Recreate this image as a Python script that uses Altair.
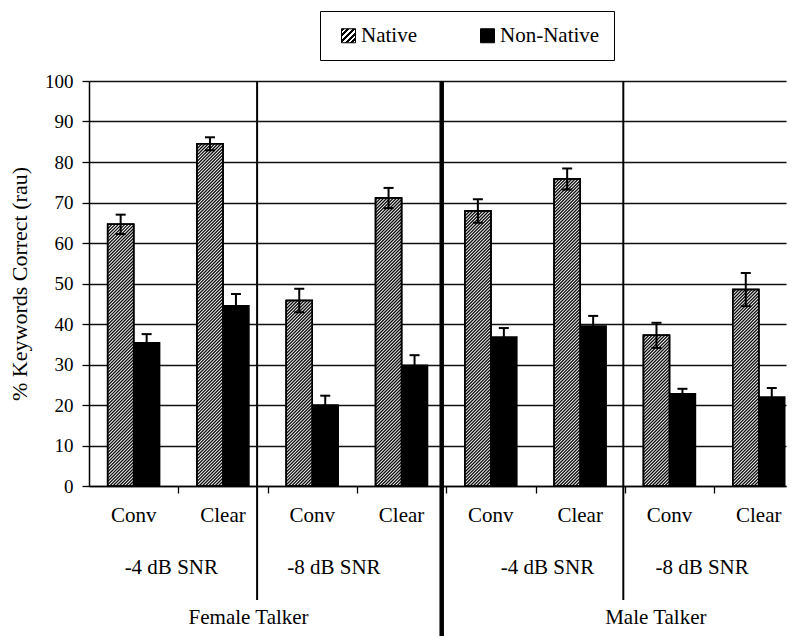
import altair as alt
import pandas as pd

# ---------------- data ----------------
conditions = ["Conv", "Clear", "Conv", "Clear", "Conv", "Clear", "Conv", "Clear"]
snr_levels = ["-4 dB SNR", "-4 dB SNR", "-8 dB SNR", "-8 dB SNR",
              "-4 dB SNR", "-4 dB SNR", "-8 dB SNR", "-8 dB SNR"]
talkers = ["Female Talker"] * 4 + ["Male Talker"] * 4
series = ["Native", "Non-Native"]
native = [64.6, 84.5, 45.8, 71.1, 67.9, 75.8, 37.2, 48.5]
native_err = [2.4, 1.6, 2.9, 2.5, 2.9, 2.6, 3.1, 4.1]
nonnative = [35.4, 44.5, 20.0, 29.8, 36.8, 39.5, 22.8, 22.0]
nonnative_err = [2.1, 2.9, 2.3, 2.5, 2.2, 2.5, 1.2, 2.2]
y_ticks = list(range(0, 101, 10))

# ---------------- layout / style ----------------
FONT = "Liberation Serif, Times New Roman, Times, serif"
W, H = 697, 405
X_MIN, X_MAX = -0.5, 7.305
PX = W / (X_MAX - X_MIN)      # pixels per category unit
PY = H / 100.0                # pixels per percent
BAR = 0.291                   # bar width in category units
CAP = 5.0 / PX                # half width of error caps
PERIOD = 3.2                  # hatch spacing (px)

xs = alt.Scale(domain=[X_MIN, X_MAX], nice=False, zero=False)
ys = alt.Scale(domain=[0, 100], nice=False)

idx = list(range(len(conditions)))
bars = pd.DataFrame({
    "idx": idx * 2,
    "series": ["Native"] * len(idx) + ["Non-Native"] * len(idx),
    "value": native + nonnative,
    "err": native_err + nonnative_err,
})

# hatch lines for the Native bars (45 degree, clipped to each bar)
hatch = []
w_px = BAR * PX
for i, v in enumerate(native):
    h_px = v * PY
    left = i - BAR
    t = -w_px + PERIOD / 2
    while t < h_px:
        xs0, ys0 = max(0.0, -t), max(0.0, t)
        xe1, ye1 = min(w_px, h_px - t), min(h_px, t + w_px)
        if xe1 > xs0:
            hatch.append({"hx0": left + xs0 / PX, "hy0": ys0 / PY,
                          "hx1": left + xe1 / PX, "hy1": ye1 / PY})
        t += PERIOD
hatch_df = pd.DataFrame(hatch)

# legend swatch hatch (gradient in the square symbol's box)
stops = []
n = 5
for k in range(n):
    a = k / n
    b = a + 0.55 / n
    c = (k + 1) / n
    stops += [f"{{offset: {a:.3f}, color: 'black'}}", f"{{offset: {b:.3f}, color: 'black'}}",
              f"{{offset: {b:.3f}, color: 'white'}}", f"{{offset: {c:.3f}, color: 'white'}}"]
grad_expr = ("({gradient: 'linear', x1: 0, y1: 0, x2: 1, y2: 1, stops: ["
             + ", ".join(stops) + "]})")

y_axis = alt.Axis(values=y_ticks, title="% Keywords Correct (rau)", grid=True,
                  gridColor="#111111", gridWidth=1.3, tickSize=7, tickColor="black",
                  tickWidth=1.3, domainColor="black", domainWidth=1.5,
                  labelFont=FONT, labelFontSize=19, labelColor="black", labelPadding=9,
                  titleFont=FONT, titleFontSize=22, titleFontWeight="normal",
                  titleColor="black", titleX=-70, titleY=H / 2, titleAngle=270,
                  titleAlign="center", titleBaseline="middle")
x_axis = alt.Axis(values=[i + 0.5 for i in idx[:-1]], labels=False, title=None,
                  grid=False, tickSize=7, tickColor="black", tickWidth=1.3,
                  domainColor="black", domainWidth=1.5)

bar_calc = dict(
    x0=f"datum.idx + (datum.series == 'Native' ? {-BAR} : 0)",
    x1=f"datum.idx + (datum.series == 'Native' ? 0 : {BAR})",
)

legend = alt.Legend(
    title="\u00a0\u00a0\u00a0\u00a0", titleOrient="left", titleFont=FONT, titleFontSize=21,
    titleFontWeight="normal", titlePadding=4,
    orient="none", legendX=231, legendY=-70, direction="horizontal",
    symbolType="square", symbolSize=196, symbolStrokeColor="black",
    symbolStrokeWidth=1, labelFont=FONT, labelFontSize=21, labelColor="black",
    labelOffset=2, columnPadding=60, padding=14, strokeColor="black",
)

base_bars = alt.Chart(bars).transform_calculate(**bar_calc)

layer_bars = base_bars.mark_bar(stroke="black", strokeWidth=1.5).encode(
    x=alt.X("x0:Q", scale=xs, axis=x_axis),
    x2="x1:Q",
    y=alt.Y("value:Q", scale=ys, axis=y_axis, stack=None),
    y2=alt.datum(0),
    fill=alt.Fill("series:N", sort=series,
                  scale=alt.Scale(domain=series, range=[{"expr": grad_expr}, "black"]),
                  legend=legend),
)

layer_white = base_bars.transform_filter("datum.series == 'Native'").mark_bar(
    fill="white", stroke="black", strokeWidth=1.5).encode(
    x=alt.X("x0:Q", scale=xs),
    x2="x1:Q",
    y=alt.Y("value:Q", scale=ys, stack=None),
    y2=alt.datum(0),
)

layer_hatch = alt.Chart(hatch_df).mark_rule(color="#111", strokeWidth=1.35).encode(
    x=alt.X("hx0:Q", scale=xs), x2="hx1:Q",
    y=alt.Y("hy0:Q", scale=ys), y2="hy1:Q",
)

layer_outline = base_bars.transform_filter("datum.series == 'Native'").mark_bar(
    fillOpacity=0, stroke="black", strokeWidth=1.5).encode(
    x=alt.X("x0:Q", scale=xs),
    x2="x1:Q",
    y=alt.Y("value:Q", scale=ys, stack=None),
    y2=alt.datum(0),
)

err_base = alt.Chart(bars).transform_calculate(
    cx=f"datum.idx + (datum.series == 'Native' ? {-BAR / 2} : {BAR / 2})",
    lo="datum.value - datum.err",
    hi="datum.value + datum.err",
).transform_calculate(c0=f"datum.cx - {CAP}", c1=f"datum.cx + {CAP}")

err_stem = err_base.mark_rule(color="black", strokeWidth=2).encode(
    x=alt.X("cx:Q", scale=xs),
    y=alt.Y("lo:Q", scale=ys), y2="hi:Q")
err_top = err_base.mark_rule(color="black", strokeWidth=2).encode(
    x=alt.X("c0:Q", scale=xs), x2="c1:Q",
    y=alt.Y("hi:Q", scale=ys))
err_bot = err_base.mark_rule(color="black", strokeWidth=2).encode(
    x=alt.X("c0:Q", scale=xs), x2="c1:Q",
    y=alt.Y("lo:Q", scale=ys))

# category labels
cat_df = pd.DataFrame({"idx": idx, "cond": conditions})
layer_cat = alt.Chart(cat_df).mark_text(font=FONT, fontSize=21, color="black",
                                        baseline="middle").encode(
    x=alt.X("idx:Q", scale=xs), y=alt.value(435), text="cond:N")

# group labels (SNR and talker)
def groups(keys):
    out = []
    start = 0
    for i in range(1, len(keys) + 1):
        if i == len(keys) or keys[i] != keys[start]:
            out.append((keys[start], start, i - 1))
            start = i
    return out

snr_groups = groups(list(zip(talkers, snr_levels)))
snr_dx = [-7, -23, 12, -12]
talker_groups = groups(talkers)
talker_dx = [-19, 31]

group_layers = []
for (key, a, b), dx in zip(snr_groups, snr_dx):
    d = pd.DataFrame({"center": [(a + b) / 2], "label": [key[1]]})
    group_layers.append(alt.Chart(d).mark_text(font=FONT, fontSize=21, color="black",
                                               baseline="middle", dx=dx).encode(
        x=alt.X("center:Q", scale=xs), y=alt.value(487), text="label:N"))
for (key, a, b), dx in zip(talker_groups, talker_dx):
    d = pd.DataFrame({"center": [(a + b) / 2], "label": [key]})
    group_layers.append(alt.Chart(d).mark_text(font=FONT, fontSize=21, color="black",
                                               baseline="middle", dx=dx).encode(
        x=alt.X("center:Q", scale=xs), y=alt.value(537), text="label:N"))

# separator lines at group boundaries
sep_layers = []
snr_bounds = [(b + 0.5) for (_, a, b) in snr_groups[:-1]]
talker_bounds = [(b + 0.5) for (_, a, b) in talker_groups[:-1]]
thin_bounds = [s for s in snr_bounds if s not in talker_bounds]
thin_off = [-10.5, -1.5]
for s, off in zip(thin_bounds, thin_off):
    d = pd.DataFrame({"pos": [s]})
    sep_layers.append(alt.Chart(d).mark_rule(color="black", strokeWidth=2, xOffset=off).encode(
        x=alt.X("pos:Q", scale=xs), y=alt.value(0), y2=alt.value(519)))
for s in talker_bounds:
    d = pd.DataFrame({"pos": [s]})
    sep_layers.append(alt.Chart(d).mark_rule(color="black", strokeWidth=4.5, xOffset=-4.5).encode(
        x=alt.X("pos:Q", scale=xs), y=alt.value(0), y2=alt.value(560)))

chart = alt.layer(
    layer_bars, layer_white, layer_hatch, layer_outline, err_stem, err_top, err_bot,
    layer_cat, *group_layers, *sep_layers
).properties(
    width=W, height=H,
    padding={"left": 81, "top": 73, "right": 2, "bottom": 150},
    autosize=alt.AutoSizeParams(type="none"),
    background="white",
).configure_view(stroke=None)

chart.save("out.html", embed_options={"renderer": "svg", "actions": False})
